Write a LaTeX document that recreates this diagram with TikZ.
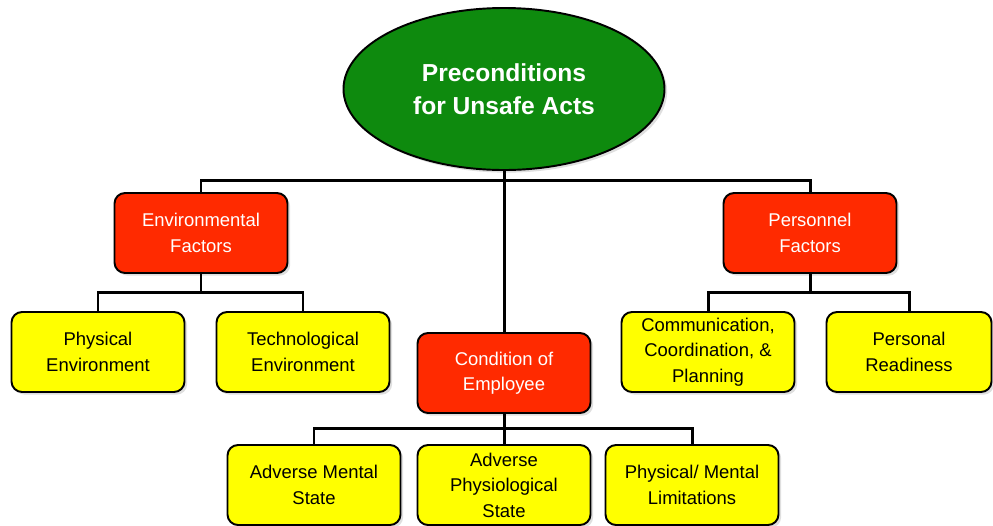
\documentclass[tikz,border=0pt]{standalone}
\usepackage{fontspec}
\setmainfont{Liberation Sans}
\usepackage{xcolor}
\usepackage{tikz}
\usetikzlibrary{positioning, shadows, shapes.geometric}
\definecolor{topgreen}{RGB}{14,138,14}
\definecolor{factred}{RGB}{255,42,0}
\definecolor{leafyellow}{RGB}{255,255,0}

\begin{document}
\begin{tikzpicture}[
  shadowed/.style={drop shadow={shadow xshift=1.5pt, shadow yshift=-1.5pt, opacity=0.25}},
  box/.style={rectangle, draw, line width=1.1pt, rounded corners=6pt, minimum width=3.46cm, minimum height=1.6cm, inner sep=1pt, align=center, font=\fontsize{10.5}{14.5}\selectfont, shadowed},
  factor/.style={box, fill=factred, text=white},
  leaf/.style={box, fill=leafyellow, text=black},
  link/.style={line width=1.7pt}
]
  \useasboundingbox (0,0) rectangle (19.86,-10.5);

  % Top: preconditions
  \node[ellipse, draw, line width=1.1pt, fill=topgreen, text=white, minimum width=6.42cm, minimum height=3.24cm, inner sep=0pt, align=center, font=\bfseries\fontsize{14}{18.8}\selectfont, shadowed] (pre) at (10.08, -1.78) {Preconditions\\for Unsafe Acts};

  % Second level
  \node[factor] (env) at (4.02, -4.66) {Environmental\\Factors};
  \node[factor] (pers) at (16.2, -4.66) {Personnel\\Factors};
  \node[factor] (cond) at (10.08, -7.46) {Condition of\\Employee};

  % Environmental leaves
  \node[leaf] (phys) at (1.96, -7.04) {Physical\\Environment};
  \node[leaf] (tech) at (6.06, -7.04) {Technological\\Environment};

  % Personnel leaves
  \node[leaf] (comm) at (14.16, -7.04) {Communication,\\Coordination, \&\\Planning};
  \node[leaf, minimum width=3.3cm] (ready) at (18.18, -7.04) {Personal\\Readiness};

  % Condition leaves
  \node[leaf] (mental) at (6.28, -9.7) {Adverse Mental\\State};
  \node[leaf] (physio) at (10.08, -9.7) {Adverse\\Physiological\\State};
  \node[leaf] (limit) at (13.84, -9.7) {Physical/ Mental\\Limitations};

  % Connectors
  \draw[link] (pre.south) -- (cond.north);
  \draw[link] (env.north) -- ++(0,0.24) -| (pers.north);
  \draw[link] (env.south) -- ++(0,-0.4);
  \draw[link] (phys.north) -- ++(0,0.38) -| (tech.north);
  \draw[link] (pers.south) -- ++(0,-0.4);
  \draw[link] (comm.north) -- ++(0,0.38) -| (ready.north);
  \draw[link] (cond.south) -- ++(0,-0.34);
  \draw[link] (mental.north) -- ++(0,0.32) -| (limit.north);
  \draw[link] (cond.south) -- (physio.north);
\end{tikzpicture}
\end{document}
